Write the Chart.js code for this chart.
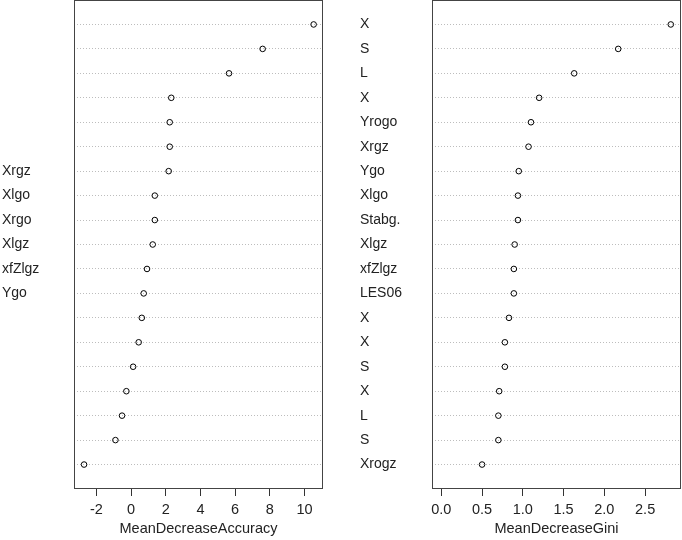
<!DOCTYPE html>
<html>
<head>
<meta charset="utf-8">
<script src="https://cdn.jsdelivr.net/npm/chart.js@4/dist/chart.umd.min.js"></script>
<style>
  body { margin:0; background:#fff; }
  canvas { position:absolute; top:0; }
  #acc { left:0; }
  #gini { left:340px; }
</style>
</head>
<body>
<canvas id="acc" width="340" height="540"></canvas>
<canvas id="gini" width="342" height="540"></canvas>
<script>
// variable labels as visible in each panel (top to bottom)
const accLabels = ["","","","","","","Xrgz","Xlgo","Xrgo","Xlgz","xfZlgz","Ygo","","","","","","",""];
const giniLabels = ["X","S","L","X","Yrogo","Xrgz","Ygo","Xlgo","Stabg.","Xlgz","xfZlgz","LES06","X","X","S","X","L","S","Xrogz"];

const accValues = [10.53,7.59,5.65,2.32,2.23,2.23,2.17,1.37,1.37,1.25,0.92,0.73,0.62,0.44,0.12,-0.27,-0.52,-0.90,-2.71];
const giniValues = [2.815,2.17,1.63,1.20,1.10,1.07,0.95,0.94,0.94,0.90,0.89,0.89,0.83,0.78,0.78,0.71,0.70,0.70,0.50];

const accTicks = [-2,0,2,4,6,8,10];
const giniTicks = [0,0.5,1,1.5,2,2.5];

const yFont = { family:"'Liberation Sans', Arial, sans-serif", size:14 };
const xFont = { family:"'Liberation Sans', Arial, sans-serif", size:14.5 };

const frame = {
  id:"frame",
  afterDraw(c){
    const a=c.chartArea, ctx=c.ctx;
    ctx.save();
    ctx.strokeStyle="#444";
    ctx.lineWidth=1;
    ctx.strokeRect(a.left+0.5,a.top+0.5,a.right-a.left-1,a.bottom-a.top-1);
    ctx.restore();
  }
};

function dotchart(id, labels, values, ticks, xmin, xmax, title, padLeft, padRight, fmt){
  new Chart(document.getElementById(id),{
    type:"scatter",
    data:{ datasets:[{
      data: values.map((v,i)=>({x:v, y:i+1})),
      pointStyle:"circle",
      pointRadius:2.8,
      pointBorderWidth:1,
      pointBorderColor:"#000",
      pointBackgroundColor:"rgba(0,0,0,0)"
    }]},
    options:{
      responsive:false,
      animation:false,
      devicePixelRatio:1,
      layout:{ autoPadding:false, padding:{ top:0, left:padLeft, right:padRight, bottom:0 } },
      plugins:{ legend:{display:false}, tooltip:{enabled:false} },
      scales:{
        x:{
          type:"linear", min:xmin, max:xmax,
          afterBuildTicks: s=>{ s.ticks = ticks.map(v=>({value:v})); },
          afterFit: s=>{ s.height = 51; s.paddingLeft = 0; s.paddingRight = 0; },
          grid:{ drawOnChartArea:false, drawTicks:true, tickLength:7, tickColor:"#333" },
          border:{ display:false },
          ticks:{ color:"#222", font:xFont, padding:5, callback:v=>fmt(v) },
          title:{ display:true, text:title, color:"#222", font:xFont, padding:{top:0,bottom:2} }
        },
        y:{
          type:"linear", min:0, max:20, reverse:true,
          afterBuildTicks: s=>{ s.ticks = labels.map((l,i)=>({value:i+1})); },
          afterFit: s=>{ s.width = 72; s.paddingTop = 0; s.paddingBottom = 0; },
          grid:{ color:"#bdbdbd", drawTicks:false, lineWidth:1 },
          border:{ display:false, dash:[1,2] },
          ticks:{ color:"#222", font:yFont, autoSkip:false, crossAlign:"far", callback:v=>labels[v-1] }
        }
      }
    },
    plugins:[frame]
  });
}

dotchart("acc", accLabels, accValues, accTicks, -3.29, 11.07, "MeanDecreaseAccuracy", 2, 17, v=>String(v));
dotchart("gini", giniLabels, giniValues, giniTicks, -0.114, 2.94, "MeanDecreaseGini", 20, 1, v=>v.toFixed(1));
</script>
</body>
</html>
